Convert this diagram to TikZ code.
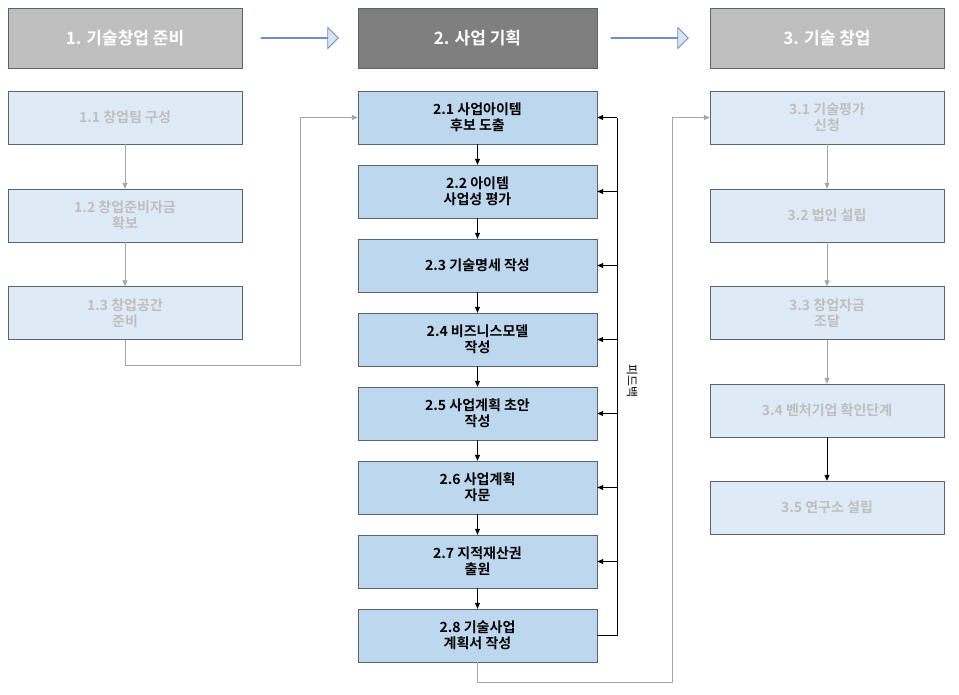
\documentclass[tikz,border=0pt]{standalone}
\usepackage{fontspec}
\setmainfont{Noto Sans CJK KR}[BoldFont={Noto Sans CJK KR Bold}]
\usetikzlibrary{shapes.arrows,arrows.meta}
\definecolor{hdrA}{HTML}{BFBFBF}
\definecolor{hdrB}{HTML}{7F7F7F}
\definecolor{paleBox}{HTML}{DEEBF7}
\definecolor{midBox}{HTML}{BDD7EE}
\definecolor{boxLine}{HTML}{5A6470}
\definecolor{paleTxt}{HTML}{BFBFBF}
\definecolor{arrFill}{HTML}{DAE3F3}
\definecolor{arrLine}{HTML}{6F8FC0}
\begin{document}
\begin{tikzpicture}[x=1pt,y=-1pt,
 hdr/.style={draw=boxLine,minimum width=234pt,minimum height=60pt,font=\bfseries\fontsize{17}{20}\selectfont,text=white,inner sep=0pt},
 pbox/.style={draw=boxLine,fill=paleBox,minimum width=234pt,minimum height=53pt,font=\bfseries\fontsize{14}{16}\selectfont,text=paleTxt,align=center,inner sep=0pt},
 mbox/.style={draw=boxLine,fill=midBox,minimum width=239pt,minimum height=53pt,font=\bfseries\fontsize{14}{16}\selectfont,text=black,align=center,inner sep=0pt},
 garr/.style={draw=black!35,line width=0.8pt,-{Triangle[length=6pt,width=5pt]}},
 karr/.style={draw=black,line width=0.8pt,-{Triangle[length=6pt,width=5pt]}},
 bigarr/.style={single arrow,draw=arrLine,fill=arrFill,minimum height=77pt,minimum width=40pt,single arrow head extend=0pt,single arrow tip angle=90,inner sep=0pt,line width=0.8pt}]
\useasboundingbox (0,0) rectangle (959,694);
\fill[white] (0,0) rectangle (959,694);
\node[hdr,fill=hdrA] (h1) at (125,38) {1. 기술창업 준비};
\node[hdr,fill=hdrB,minimum width=239pt] (h2) at (477.5,38) {2. 사업 기획};
\node[hdr,fill=hdrA] (h3) at (827,38) {3. 기술 창업};
\node[bigarr,minimum width=20pt,single arrow head extend=10pt] (a1) at (299.5,38) {};
\node[bigarr,minimum width=20pt,single arrow head extend=10pt] (a2) at (649.5,38) {};
\node[pbox] (b11) at (125,117.5) {1.1 창업팀 구성};
\node[pbox] (b12) at (125,215.5) {1.2 창업준비자금\\확보};
\node[pbox] (b13) at (125,313) {1.3 창업공간\\준비};
\draw[garr] (b11) -- (b12);
\draw[garr] (b12) -- (b13);
\foreach \i/\t [count=\k from 0] in {1/{2.1 사업아이템\\후보 도출},2/{2.2 아이템\\사업성 평가},3/{2.3 기술명세 작성},4/{2.4 비즈니스모델\\작성},5/{2.5 사업계획 초안\\작성},6/{2.6 사업계획\\자문},7/{2.7 지적재산권\\출원},8/{2.8 기술사업\\계획서 작성}}
  \node[mbox] (c\i) at (477.5,{117.5+74*\k}) {\t};
\foreach \i [evaluate=\i as \j using int(\i+1)] in {1,...,7}
  \draw[karr] (c\i) -- (c\j);
\node[pbox] (d1) at (827,117.5) {3.1 기술평가\\신청};
\node[pbox] (d2) at (827,215.5) {3.2 법인 설립};
\node[pbox] (d3) at (827,313) {3.3 창업자금\\조달};
\node[pbox] (d4) at (827,410.5) {3.4 벤처기업 확인단계};
\node[pbox] (d5) at (827,507.5) {3.5 연구소 설립};
\draw[garr] (d1) -- (d2);
\draw[garr] (d2) -- (d3);
\draw[garr] (d3) -- (d4);
\draw[karr] (d4) -- (d5);
\coordinate (fb) at (617,117.5);
\draw[line width=0.8pt] (c8.east) -- (c8.east -| fb) -- (fb);
\foreach \i in {1,...,7} \draw[karr] (c\i.east -| fb) -- (c\i.east);
\node[rotate=-90,font=\fontsize{12}{14}\selectfont] (fbt) at (632,381) {피드백};
\draw[garr] (b13.south) |- (300,365) |- (c1.west);
\draw[garr] (c8.south) |- (672,682) |- (d1.west);
\end{tikzpicture}
\end{document}
